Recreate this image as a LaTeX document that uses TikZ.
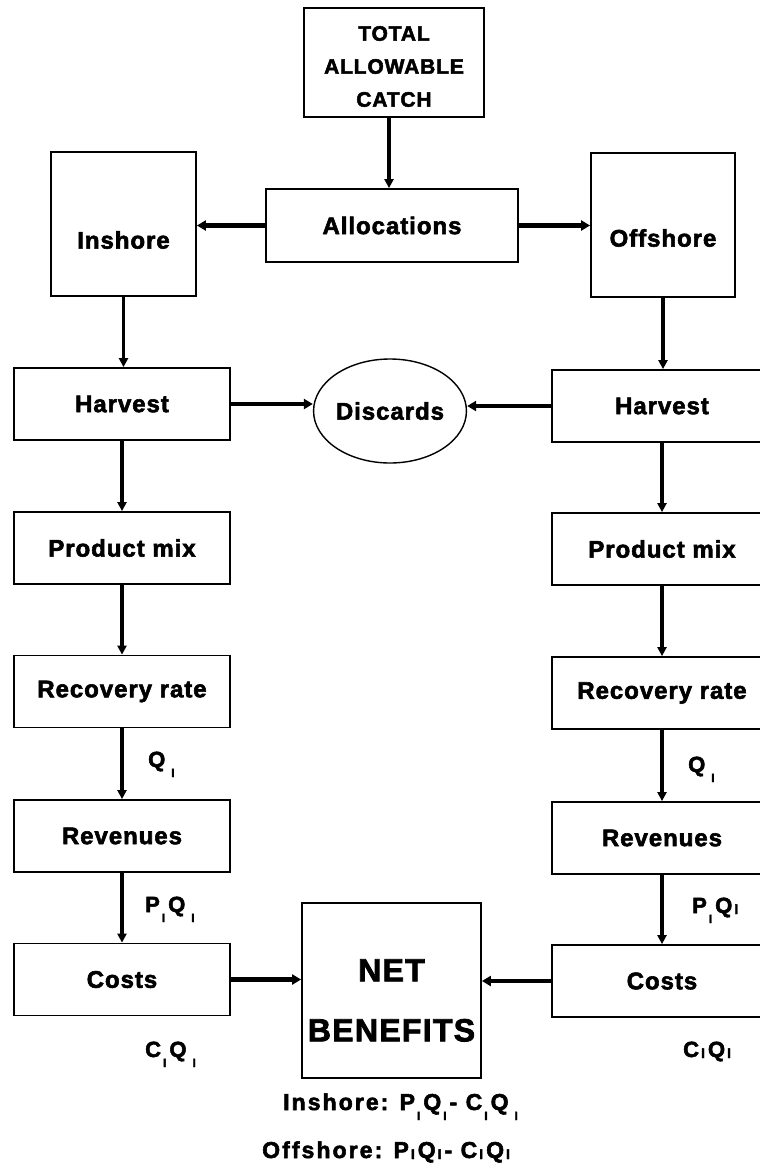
\documentclass[tikz,border=0pt]{standalone}
\usepackage{fontspec}
\setmainfont{Liberation Sans}[LetterSpace=4,BoldFeatures={FakeBold=2.4}]
\usetikzlibrary{arrows.meta,shapes.geometric}
\newcommand\sbi{\hspace{2pt}\raisebox{-10pt}{\fontsize{12}{12}\selectfont I}\hspace{3pt}}
\newcommand\sbo{\hspace{2pt}\raisebox{-1pt}{\fontsize{14}{14}\selectfont I}\hspace{3pt}}
\begin{document}
\begin{tikzpicture}[x=1pt,y=-1pt,
  box/.style={draw,line width=1.8pt,rectangle,inner sep=0pt,font=\fontsize{24}{28}\selectfont\bfseries},
  lbox/.style={box,minimum width=216pt,minimum height=72pt},
  rbox/.style={box,minimum width=220pt,minimum height=72pt},
  txt/.style={font=\fontsize{24}{28}\selectfont\bfseries,inner sep=0pt},
  vflow/.style={line width=3.5pt,-{Triangle[length=9pt,width=9pt]}},
  hflow/.style={line width=4.5pt,-{Triangle[length=9pt,width=10pt]}},
  lab/.style={font=\fontsize{22}{24}\selectfont\bfseries,inner sep=0pt,anchor=base west},
  formula/.style={font=\fontsize{23}{24}\selectfont\bfseries\addfontfeatures{LetterSpace=9},inner sep=0pt,anchor=base west}
  ]
\useasboundingbox (0,0) rectangle (760,1165);
\clip (0,0) rectangle (760,1165);

% top
\node[box,minimum width=180pt,minimum height=109pt,
  label={[font=\fontsize{21}{33}\selectfont\bfseries,align=center,yshift=-4pt]center:TOTAL\\ALLOWABLE\\CATCH}] (TAC) at (394,62.5) {};
\node[box,minimum width=252pt,minimum height=73pt] (Alloc) at (392,225.5) {Allocations};
\node[box,minimum width=145pt,minimum height=144pt,
  label={[txt,yshift=-16pt]center:Inshore}] (Inshore) at (123.5,224) {};
\node[box,minimum width=144pt,minimum height=144pt,
  label={[txt,yshift=-13pt]center:Offshore}] (Offshore) at (663,225) {};

% left column
\node[lbox] (HL) at (122,404) {Harvest};
\node[lbox] (PL) at (122,548) {Product mix};
\node[lbox] (RL) at (122,691.5) {Recovery rate};
\node[lbox] (VL) at (122,836) {Revenues};
\node[lbox] (CL) at (122,979.5) {Costs};

% right column
\node[rbox] (HR) at (662,406) {Harvest};
\node[rbox] (PR) at (662,549) {Product mix};
\node[rbox] (RR) at (662,693) {Recovery rate};
\node[rbox] (VR) at (662,838) {Revenues};
\node[rbox] (CR) at (662,981) {Costs};

% discards
\node[draw,ellipse,line width=1.4pt,inner sep=0pt,minimum width=122pt,minimum height=104pt,
  font=\fontsize{24}{28}\selectfont\bfseries] (Dis) at (390,411) {Discards};

% net benefits
\node[box,minimum width=179pt,minimum height=175pt,
  label={[font=\fontsize{32}{60}\selectfont\bfseries,align=center,yshift=-10pt]center:NET\\BENEFITS}] (NET) at (391.5,990.5) {};

% labels
\node[lab] (QL) at (148,767) {Q\hspace{4pt}\sbi};
\node[lab] (PQL) at (145,912) {P\sbi Q\hspace{4pt}\sbi};
\node[lab] (CQL) at (145,1057) {C\sbi Q\hspace{4pt}\sbi};
\node[lab] (QR) at (688,772) {Q\hspace{4pt}\sbi};
\node[lab] (PQR) at (692,913) {P\sbi Q\sbo};
\node[lab] (CQR) at (683,1057) {C\sbo Q\sbo};
\node[formula] (F1) at (283,1110) {Inshore: P\sbi Q\sbi- C\sbi Q\hspace{4pt}\sbi};
\node[formula] (F2) at (262,1158) {Offshore: P\sbo Q\sbo- C\sbo Q\sbo};

% connectors
\draw[vflow] ([xshift=-5pt]TAC.south) -- ([xshift=-5pt]TAC.south |- Alloc.north);
\draw[hflow] (Alloc.west) -- (Alloc.west -| Inshore.east);
\draw[hflow] (Alloc.east) -- (Alloc.east -| Offshore.west);
\draw[vflow] (Inshore.south) -- (Inshore.south |- HL.north);
\draw[vflow] (Offshore.south) -- (Offshore.south |- HR.north);
\draw[hflow] (HL.east) -- (HL.east -| Dis.west);
\draw[hflow] (HR.west) -- (HR.west -| Dis.east);
\draw[vflow] (HL.south) -- (PL.north);
\draw[vflow] (PL.south) -- (RL.north);
\draw[vflow] (RL.south) -- (VL.north);
\draw[vflow] (VL.south) -- (CL.north);
\draw[vflow] (HR.south) -- (PR.north);
\draw[vflow] (PR.south) -- (RR.north);
\draw[vflow] (RR.south) -- (VR.north);
\draw[vflow] (VR.south) -- (CR.north);
\draw[hflow] (CL.east) -- (CL.east -| NET.west);
\draw[hflow] (CR.west) -- (CR.west -| NET.east);
\end{tikzpicture}
\end{document}
